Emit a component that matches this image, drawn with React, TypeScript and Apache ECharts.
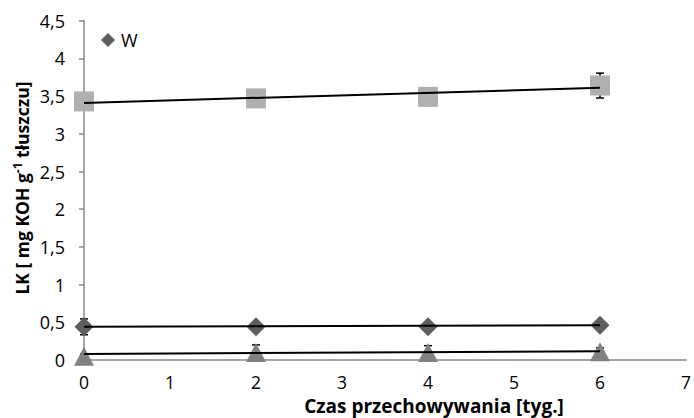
import React, { useEffect, useRef } from "react";
import * as echarts from "echarts";

const weeks = [0, 2, 4, 6];
const xTicks = [0, 1, 2, 3, 4, 5, 6, 7];
const yTicks = [0, 0.5, 1, 1.5, 2, 2.5, 3, 3.5, 4, 4.5];

const squareVals = [3.43, 3.47, 3.49, 3.64];
const squareErr = [0.0, 0.0, 0.0, 0.165];
const squareTrend = [3.41, 3.61];

const diamondVals = [0.44, 0.44, 0.44, 0.46];
const diamondErr = [0.105, 0.0, 0.0, 0.03];
const diamondTrend = [0.44, 0.46];

const triangleVals = [0.05, 0.1, 0.1, 0.11];
const triangleErr = [0.03, 0.1, 0.09, 0.05];
const triangleTrend = [0.08, 0.115];

const FONT = "'Open Sans', 'Noto Sans', sans-serif";

function pts(vals: number[]) {
  return weeks.map((w, i) => [w, vals[i]]);
}
function errPts(vals: number[], errs: number[]) {
  return weeks.map((w, i) => [w, vals[i], errs[i]]);
}
function trend(t: number[]) {
  return [
    [weeks[0], t[0]],
    [weeks[weeks.length - 1], t[1]],
  ];
}

const errorRender = (params: any, api: any) => {
  const x = api.value(0);
  const y = api.value(1);
  const e = api.value(2);
  if (!e) return { type: "group", children: [] };
  const top = api.coord([x, y + e]);
  const bot = api.coord([x, y - e]);
  const cw = 4;
  const st = { stroke: "#000", lineWidth: 1.5 };
  return {
    type: "group",
    children: [
      { type: "line", shape: { x1: top[0], y1: top[1], x2: bot[0], y2: bot[1] }, style: st },
      { type: "line", shape: { x1: top[0] - cw, y1: top[1], x2: top[0] + cw, y2: top[1] }, style: st },
      { type: "line", shape: { x1: bot[0] - cw, y1: bot[1], x2: bot[0] + cw, y2: bot[1] }, style: st },
    ],
  };
};

export default function App() {
  const ref = useRef<HTMLDivElement>(null);
  useEffect(() => {
    if (!ref.current) return;
    const chart = echarts.init(ref.current, undefined, { renderer: "svg" });
    const errSeries = (name: string, vals: number[], errs: number[]) => ({
      type: "custom",
      name: name + "_err",
      renderItem: errorRender,
      data: errPts(vals, errs),
      z: 1,
      silent: true,
    });
    const trendSeries = (vals: number[]) => ({
      type: "line",
      data: trend(vals),
      symbol: "none",
      lineStyle: { color: "#000", width: 2 },
      z: 4,
      silent: true,
    });
    chart.setOption({
      animation: false,
      backgroundColor: "#fff",
      grid: { left: 84, right: 3, top: 20.7, bottom: 58 },
      legend: {
        data: ["W"],
        left: 101,
        top: 31,
        padding: 0,
        icon: "diamond",
        itemWidth: 14,
        itemHeight: 14,
        itemGap: 4,
        textStyle: { fontFamily: FONT, fontSize: 18, lineHeight: 18, color: "#000", padding: [0, 0, 0, 1] },
      },
      xAxis: {
        type: "value",
        min: 0,
        max: 7,
        interval: 1,
        axisLine: { show: true, onZero: false, lineStyle: { color: "#888", width: 1.5 } },
        axisTick: { show: false },
        splitLine: { show: false },
        axisLabel: {
          margin: 13,
          fontFamily: FONT,
          fontSize: 17.5,
          lineHeight: 18,
          color: "#000",
          customValues: xTicks,
        },
      },
      yAxis: {
        type: "value",
        min: 0,
        max: 4.5,
        interval: 0.5,
        axisLine: { show: true, lineStyle: { color: "#888", width: 1.5 } },
        axisTick: { show: true, length: 5, lineStyle: { color: "#888", width: 1.5 } },
        splitLine: { show: false },
        axisLabel: {
          margin: 19,
          fontFamily: FONT,
          fontSize: 18,
          lineHeight: 18,
          color: "#000",
          formatter: (v: number) => (yTicks.includes(v) ? String(v).replace(".", ",") : ""),
        },
      },
      graphic: [
        {
          type: "text",
          x: 434,
          y: 406,
          style: {
            text: "Czas przechowywania [tyg.]",
            fontFamily: FONT,
            fontWeight: "bold",
            fontSize: 19,
            lineHeight: 20,
            fill: "#000",
            align: "center",
            verticalAlign: "middle",
          },
        },
        {
          type: "text",
          x: 21,
          y: 188,
          rotation: Math.PI / 2,
          style: {
            text: "{n|LK [ mg KOH g}{s|-1}{n| tłuszczu]}",
            align: "center",
            verticalAlign: "middle",
            rich: {
              n: { fontFamily: FONT, fontWeight: "bold", fontSize: 17.5, fill: "#000", verticalAlign: "bottom" },
              s: { fontFamily: FONT, fontWeight: "bold", fontSize: 12, fill: "#000", verticalAlign: "top", padding: [0, 0, 8, 0] },
            },
          },
        },
      ],
      series: [
        errSeries("sq", squareVals, squareErr),
        errSeries("di", diamondVals, diamondErr),
        errSeries("tr", triangleVals, triangleErr),
        {
          type: "scatter",
          name: "S",
          data: pts(squareVals),
          symbol: "rect",
          symbolSize: 20,
          itemStyle: { color: "#B0B0B0", opacity: 1 },
          z: 2,
        },
        {
          type: "scatter",
          name: "W",
          data: pts(diamondVals),
          symbol: "diamond",
          symbolSize: 19,
          itemStyle: { color: "#5E5E5E", opacity: 1 },
          z: 2,
        },
        {
          type: "scatter",
          name: "T",
          data: pts(triangleVals),
          symbol: "triangle",
          symbolSize: [20, 19],
          itemStyle: { color: "#818181", opacity: 1 },
          z: 2,
        },
        trendSeries(squareTrend),
        trendSeries(diamondTrend),
        trendSeries(triangleTrend),
      ],
    });
    return () => chart.dispose();
  }, []);
  return <div ref={ref} style={{ width: 694, height: 418, position: "absolute", left: 0, top: 0 }} />;
}
